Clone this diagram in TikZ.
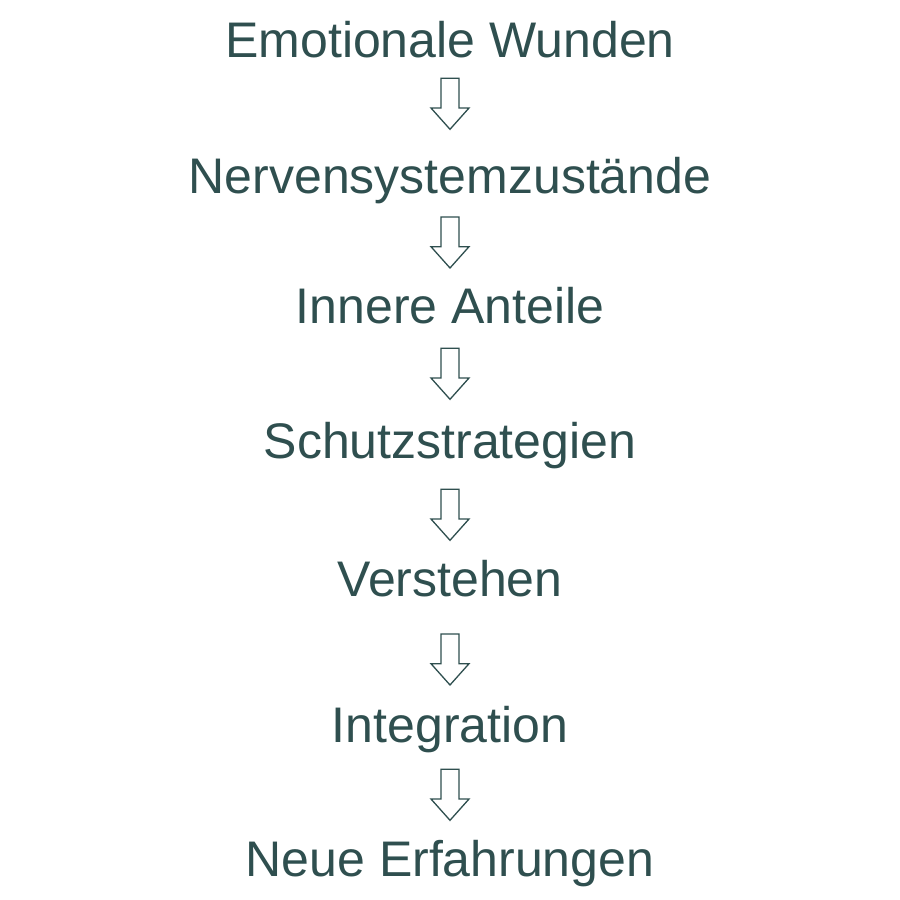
\documentclass[tikz,border=0pt]{standalone}
\usepackage{fontspec}
\setmainfont{Liberation Sans}
\definecolor{slate}{RGB}{47,79,79}
\begin{document}
\begin{tikzpicture}[x=1pt,y=-1pt,
  label/.style={text=slate,font=\fontsize{50}{60}\selectfont,anchor=base,inner sep=0pt},
  blockarrow/.pic={\draw[slate,line width=1.3pt,fill=white,line join=miter]
     (-9,0)--(9,0)--(9,29.7)--(19,29.7)--(0,51)--(-19,29.7)--(-9,29.7)--cycle;}]
\useasboundingbox[fill=white] (0,0) rectangle (900,900);
\node[label] (n1) at (450,57.2) {Emotionale Wunden};
\node[label] (n2) at (450,193) {Nervensystemzustände};
\node[label] (n3) at (450,323.3) {Innere Anteile};
\node[label] (n4) at (450,458.3) {Schutzstrategien};
\node[label] (n5) at (450,596.7) {Verstehen};
\node[label] (n6) at (450,742.7) {Integration};
\node[label] (n7) at (450,876.7) {Neue Erfahrungen};
\coordinate (a1) at (450,78.3);
\coordinate (a2) at (450,217);
\coordinate (a3) at (450,348.3);
\coordinate (a4) at (450,489.3);
\coordinate (a5) at (450,634);
\coordinate (a6) at (450,769.3);
\foreach \a in {a1,a2,a3,a4,a5,a6} {\pic at (\a) {blockarrow};}
\end{tikzpicture}
\end{document}
